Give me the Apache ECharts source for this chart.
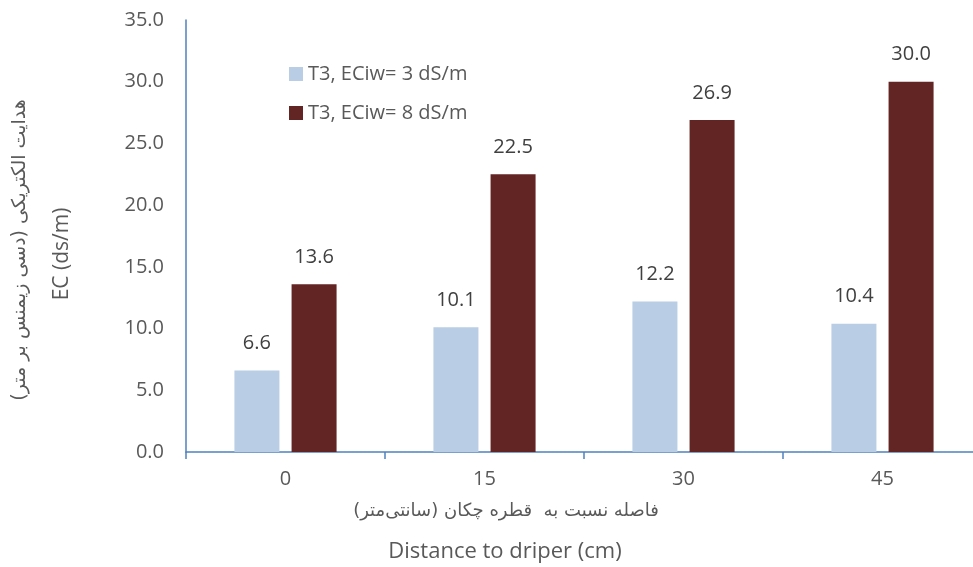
<!DOCTYPE html>
<html>
<head>
<meta charset="utf-8">
<script src="https://cdn.jsdelivr.net/npm/echarts@6/dist/echarts.min.js"></script>
<style>
  html, body { margin: 0; padding: 0; background: #fff; overflow: hidden; }
  /* the plot runs slightly past the right edge of the window */
  #chart { width: 982px; height: 567px; }
</style>
</head>
<body>
<div id="chart"></div>
<script>
// Distance from the dripper (cm)
const categories = ['0', '15', '30', '45'];
// Soil EC under two irrigation-water salinities
const seriesLow = [6.6, 10.1, 12.2, 10.4];
const seriesHigh = [13.6, 22.5, 26.9, 30.0];
const seriesNames = ['T3, ECiw= 3 dS/m', 'T3, ECiw= 8 dS/m'];
const yTicks = { min: 0, max: 35, interval: 5 };

const textColor = '#595959';
const axisColor = '#4f81bd';
const latin = '"Open Sans", "Noto Sans", sans-serif';
const arabic = '"DejaVu Sans", sans-serif';

const chart = echarts.init(document.getElementById('chart'));

const labelStyle = {
  show: true,
  position: 'top',
  distance: 17,
  color: '#404040',
  fontSize: 20,
  fontFamily: latin,
  formatter: p => p.value.toFixed(1)
};

chart.setOption({
  animation: false,
  backgroundColor: '#ffffff',
  grid: { left: 186, right: 0, top: 20, bottom: 115, containLabel: false },
  legend: {
    orient: 'vertical',
    left: 284,
    top: 59,
    itemWidth: 14,
    itemHeight: 14,
    itemGap: 19,
    icon: 'rect',
    textStyle: { color: textColor, fontSize: 20, fontFamily: latin },
    data: seriesNames
  },
  xAxis: {
    type: 'category',
    data: categories,
    axisLine: { lineStyle: { color: axisColor, width: 1.5 } },
    axisTick: { show: true, length: 7, lineStyle: { color: axisColor, width: 1.5 } },
    axisLabel: { color: textColor, fontSize: 20, fontFamily: latin, margin: 17 }
  },
  yAxis: {
    type: 'value',
    min: yTicks.min,
    max: yTicks.max,
    interval: yTicks.interval,
    axisLine: { show: true, lineStyle: { color: axisColor, width: 1.5 } },
    axisTick: { show: false },
    splitLine: { show: false },
    axisLabel: {
      color: textColor, fontSize: 20, fontFamily: latin, margin: 22,
      formatter: v => v.toFixed(1)
    }
  },
  series: [
    {
      name: seriesNames[0],
      type: 'bar',
      data: seriesLow,
      barWidth: 45,
      barGap: '27%',
      itemStyle: { color: '#b9cde5' },
      label: labelStyle
    },
    {
      name: seriesNames[1],
      type: 'bar',
      data: seriesHigh,
      barWidth: 45,
      barGap: '27%',
      itemStyle: { color: '#632523' },
      label: labelStyle
    }
  ],
  graphic: [
    {
      type: 'text',
      x: 20, y: 250, rotation: Math.PI / 2,
      style: {
        text: 'هدایت الکتریکی (دسی زیمنس بر متر)',
        fill: textColor, fontSize: 19, fontFamily: arabic,
        align: 'center', verticalAlign: 'middle'
      }
    },
    {
      type: 'text',
      x: 62, y: 254, rotation: Math.PI / 2,
      style: {
        text: 'EC (ds/m)',
        fill: textColor, fontSize: 21, fontFamily: latin,
        align: 'center', verticalAlign: 'middle'
      }
    },
    {
      type: 'text',
      x: 506, y: 511,
      style: {
        text: 'فاصله نسبت به  قطره چکان (سانتی‌متر)',
        fill: textColor, fontSize: 18, fontFamily: arabic,
        align: 'center', verticalAlign: 'middle'
      }
    },
    {
      type: 'text',
      x: 505, y: 552,
      style: {
        text: 'Distance to driper (cm)',
        fill: textColor, fontSize: 22, fontFamily: latin,
        align: 'center', verticalAlign: 'middle'
      }
    }
  ]
});
</script>
</body>
</html>
